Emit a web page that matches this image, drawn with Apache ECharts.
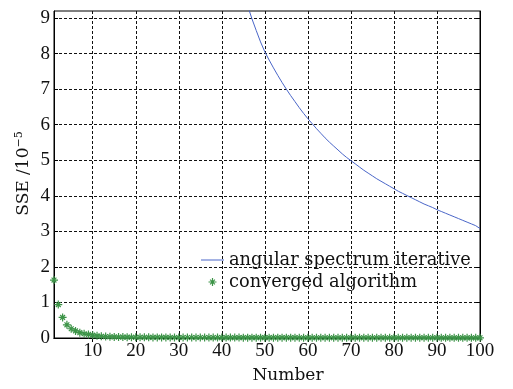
<!DOCTYPE html>
<html>
<head>
<meta charset="utf-8">
<script src="https://cdn.jsdelivr.net/npm/echarts@6/dist/echarts.min.js"></script>
<style>
html,body{margin:0;padding:0;background:#fff;}
#chart{width:513px;height:389px;}
</style>
</head>
<body>
<div id="chart"></div>
<script>
// ---- data ----
const seriesNames = ['angular spectrum iterative', 'converged algorithm'];
const xTicks = [10, 20, 30, 40, 50, 60, 70, 80, 90, 100];
const yTicks = [0, 1, 2, 3, 4, 5, 6, 7, 8, 9];

// angular spectrum iterative: iterations 45..100
const blueStart = 45;
const blueValues = [
  9.70, 9.35, 8.98, 8.65, 8.33, 8.05, 7.82, 7.60, 7.39, 7.19,
  7.00, 6.82, 6.65, 6.48, 6.32, 6.17, 6.03, 5.89, 5.76, 5.63,
  5.51, 5.40, 5.29, 5.18, 5.08, 4.99, 4.90, 4.81, 4.72, 4.64,
  4.56, 4.48, 4.41, 4.34, 4.27, 4.20, 4.13, 4.07, 4.01, 3.95,
  3.89, 3.83, 3.77, 3.72, 3.67, 3.61, 3.56, 3.51, 3.46, 3.41,
  3.36, 3.31, 3.26, 3.21, 3.16, 3.08
];

// converged algorithm: iterations 1..100
const greenStart = 1;
const greenValues = [
  1.63, 0.94, 0.58, 0.37, 0.26, 0.20, 0.15, 0.12, 0.10, 0.08,
  0.06, 0.05, 0.04, 0.035, 0.030, 0.028, 0.026, 0.024, 0.022, 0.021,
  0.020, 0.019, 0.018, 0.017, 0.017, 0.016, 0.016, 0.015, 0.015, 0.015,
  0.014, 0.014, 0.014, 0.013, 0.013, 0.013, 0.012, 0.012, 0.012, 0.012,
  0.011, 0.011, 0.011, 0.011, 0.010, 0.010, 0.010, 0.010, 0.010, 0.010,
  0.009, 0.009, 0.009, 0.009, 0.009, 0.009, 0.009, 0.008, 0.008, 0.008,
  0.008, 0.008, 0.008, 0.008, 0.008, 0.008, 0.007, 0.007, 0.007, 0.007,
  0.007, 0.007, 0.007, 0.007, 0.007, 0.007, 0.007, 0.006, 0.006, 0.006,
  0.006, 0.006, 0.006, 0.006, 0.006, 0.006, 0.006, 0.006, 0.006, 0.006,
  0.005, 0.005, 0.005, 0.005, 0.005, 0.005, 0.005, 0.005, 0.005, 0.005
];

const blueData = blueValues.map((v, i) => [blueStart + i, v]);
const greenData = greenValues.map((v, i) => [greenStart + i, v]);

const FONT = 'DejaVu Serif';
const TICKFONT = 'Liberation Serif';
const asterisk = 'path://M-0.15,-1L0.15,-1L0.15,1L-0.15,1Z' +
  'M-1,-0.15L1,-0.15L1,0.15L-1,0.15Z' +
  'M-0.495,-0.707L0.707,0.495L0.495,0.707L-0.707,-0.495Z' +
  'M-0.707,0.495L0.495,-0.707L0.707,-0.495L-0.495,0.707Z';

const chart = echarts.init(document.getElementById('chart'), null, {renderer: 'canvas'});
const dashed = {show: true, lineStyle: {color: '#111', type: [3, 2], width: 1}};
const option = {
  animation: false,
  backgroundColor: '#fff',
  grid: {left: 54, right: 33, top: 11, bottom: 44, show: true, borderColor: '#000', borderWidth: 1, backgroundColor: 'transparent'},
  legend: {
    orient: 'vertical', left: 196, top: 246,
    itemWidth: 23, itemHeight: 8, itemGap: 4,
    textStyle: {fontFamily: FONT, fontSize: 17.8, color: '#111', lineHeight: 18},
    data: [
      {name: seriesNames[0], icon: 'path://M0,0L23,0L23,1L0,1Z'},
      {name: seriesNames[1]}
    ]
  },
  xAxis: [{
    type: 'value', min: 1, max: 100,
    name: 'Number', nameLocation: 'middle', nameGap: 29, nameMoveOverlap: false,
    nameTextStyle: {fontFamily: FONT, fontSize: 17, color: '#111', padding: [0, 0, 0, 42]},
    axisLine: {show: true, onZero: false, lineStyle: {color: '#000', width: 1}},
    axisTick: {show: true, inside: true, length: 4, customValues: xTicks, lineStyle: {color: '#000'}},
    axisLabel: {customValues: xTicks, margin: 4, fontFamily: TICKFONT, fontSize: 19, color: '#111'},
    splitLine: dashed
  }, {
    type: 'value', min: 1, max: 100, position: 'top',
    axisLine: {show: true, lineStyle: {color: '#000'}},
    axisTick: {show: true, inside: true, length: 4, customValues: xTicks, lineStyle: {color: '#000'}},
    axisLabel: {show: false}, splitLine: {show: false}
  }],
  yAxis: [{
    type: 'value', min: 0, max: 9.2,
    name: 'SSE /10{sup|−5}', nameLocation: 'middle', nameGap: 21, nameRotate: 90, nameMoveOverlap: false,
    nameTextStyle: {fontFamily: FONT, fontSize: 17, color: '#111', padding: [0, 0, 0, 2],
      rich: {sup: {fontFamily: FONT, fontSize: 11, color: '#111', padding: [0, 0, 8, 0]}}},
    axisLine: {show: true, lineStyle: {color: '#000', width: 1}},
    axisTick: {show: true, inside: true, length: 4, customValues: yTicks, lineStyle: {color: '#000'}},
    axisLabel: {customValues: yTicks, margin: 4, fontFamily: TICKFONT, fontSize: 19, color: '#111'},
    splitLine: dashed
  }, {
    type: 'value', min: 0, max: 9.2, position: 'right',
    axisLine: {show: true, lineStyle: {color: '#000'}},
    axisTick: {show: true, inside: true, length: 4, customValues: yTicks, lineStyle: {color: '#000'}},
    axisLabel: {show: false}, splitLine: {show: false}
  }],
  series: [{
    name: seriesNames[0], type: 'line', data: blueData,
    xAxisIndex: 0, yAxisIndex: 0,
    symbol: 'none', clip: true, smooth: false,
    lineStyle: {color: '#4a66c8', width: 1}, itemStyle: {color: '#4a66c8'}
  }, {
    name: seriesNames[1], type: 'scatter', data: greenData,
    xAxisIndex: 0, yAxisIndex: 0,
    symbol: asterisk, symbolSize: 8, clip: false,
    itemStyle: {color: '#3d9448', opacity: 1}
  }]
};
chart.setOption(option);
</script>
</body>
</html>
